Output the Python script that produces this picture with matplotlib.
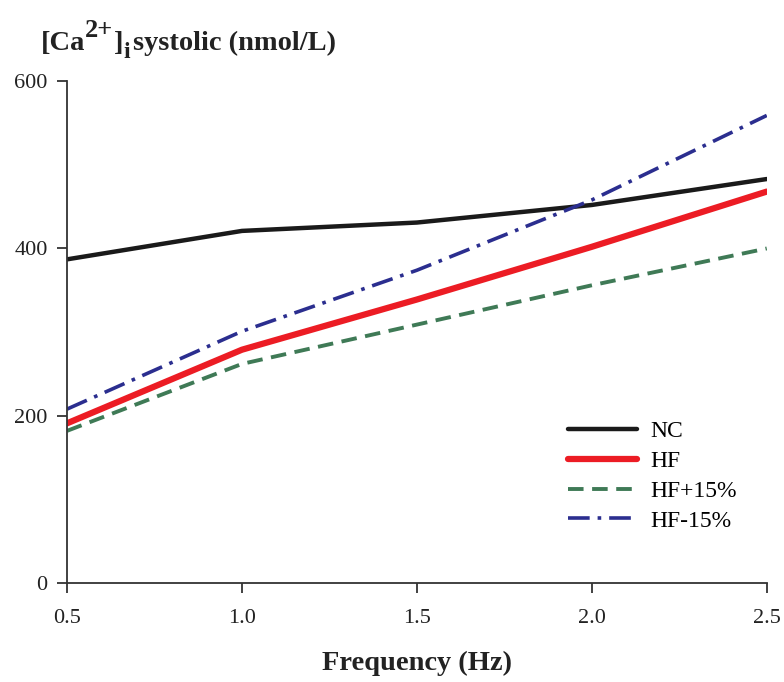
import matplotlib.pyplot as plt
import numpy as np

plt.rcParams['font.family'] = ['Liberation Serif', 'DejaVu Serif']

freq = [0.5, 1.0, 1.5, 2.0, 2.5]
nc = [387, 421, 431, 452, 483]
hf = [191, 279, 339, 402, 468]
hf_plus15 = [182, 262, 309, 356, 400]
hf_minus15 = [208, 301, 374, 458, 559]

fig = plt.figure(figsize=(7.84, 6.82), dpi=100)
ax = fig.add_axes([0.0855, 0.145, 0.8925, 0.736])

ax.plot(freq, nc, color='#1a1a1a', lw=3.2, solid_capstyle='round', label='NC')
ax.plot(freq, hf, color='#ec1c24', lw=4.5, solid_capstyle='round', label='HF')
ax.plot(freq, hf_plus15, color='#3f7a56', lw=2.8, dashes=(4, 2.2), label='HF+15%')
ax.plot(freq, hf_minus15, color='#2b2e8f', lw=2.6, dashes=(6, 2.2, 1, 2.2), label='HF-15%')

ax.set_xlim(0.5, 2.5)
ax.set_ylim(0, 600)
ax.set_xticks(freq)
ax.set_xticklabels(['0.5', '1.0', '1.5', '2.0', '2.5'])
ax.set_yticks([0, 200, 400, 600])
for s in ['top', 'right']:
    ax.spines[s].set_visible(False)
for s in ['left', 'bottom']:
    ax.spines[s].set_color('#333333')
    ax.spines[s].set_linewidth(1.3)
ax.tick_params(direction='out', length=7, width=1.3, color='#333333',
               labelsize=16, labelcolor='#222222')
ax.tick_params(axis='x', pad=12)
ax.tick_params(axis='y', pad=7)

ax.set_xlabel('Frequency (Hz)', fontsize=20.5, fontweight='bold', labelpad=16, color='#222222')

# y-axis title built piece by piece so the charge and subscript keep full weight
tkw = dict(fontweight='bold', color='#222222', va='baseline', annotation_clip=False)
t1 = ax.annotate('[Ca', xy=(41, 632), xycoords='figure pixels', fontsize=20.5, **tkw)
t2 = ax.annotate('2+', xy=(1, 645), xycoords=(t1, 'figure pixels'), fontsize=19, **tkw)
t3 = ax.annotate(']', xy=(1, 632), xycoords=(t2, 'figure pixels'), fontsize=20.5, **tkw)
t4 = ax.annotate('i', xy=(1, 624), xycoords=(t3, 'figure pixels'), fontsize=17, **tkw)
ax.annotate('systolic (nmol/L)', xy=(1, 632), xycoords=(t4, 'figure pixels'),
            xytext=(2, 0), textcoords='offset points', fontsize=20.5, **tkw)

ax.legend(loc='lower right', bbox_to_anchor=(0.987, 0.06), frameon=False,
          fontsize=17, handlelength=2.9, labelspacing=0.35, handletextpad=0.55)

fig.savefig('out.png', dpi=100)
